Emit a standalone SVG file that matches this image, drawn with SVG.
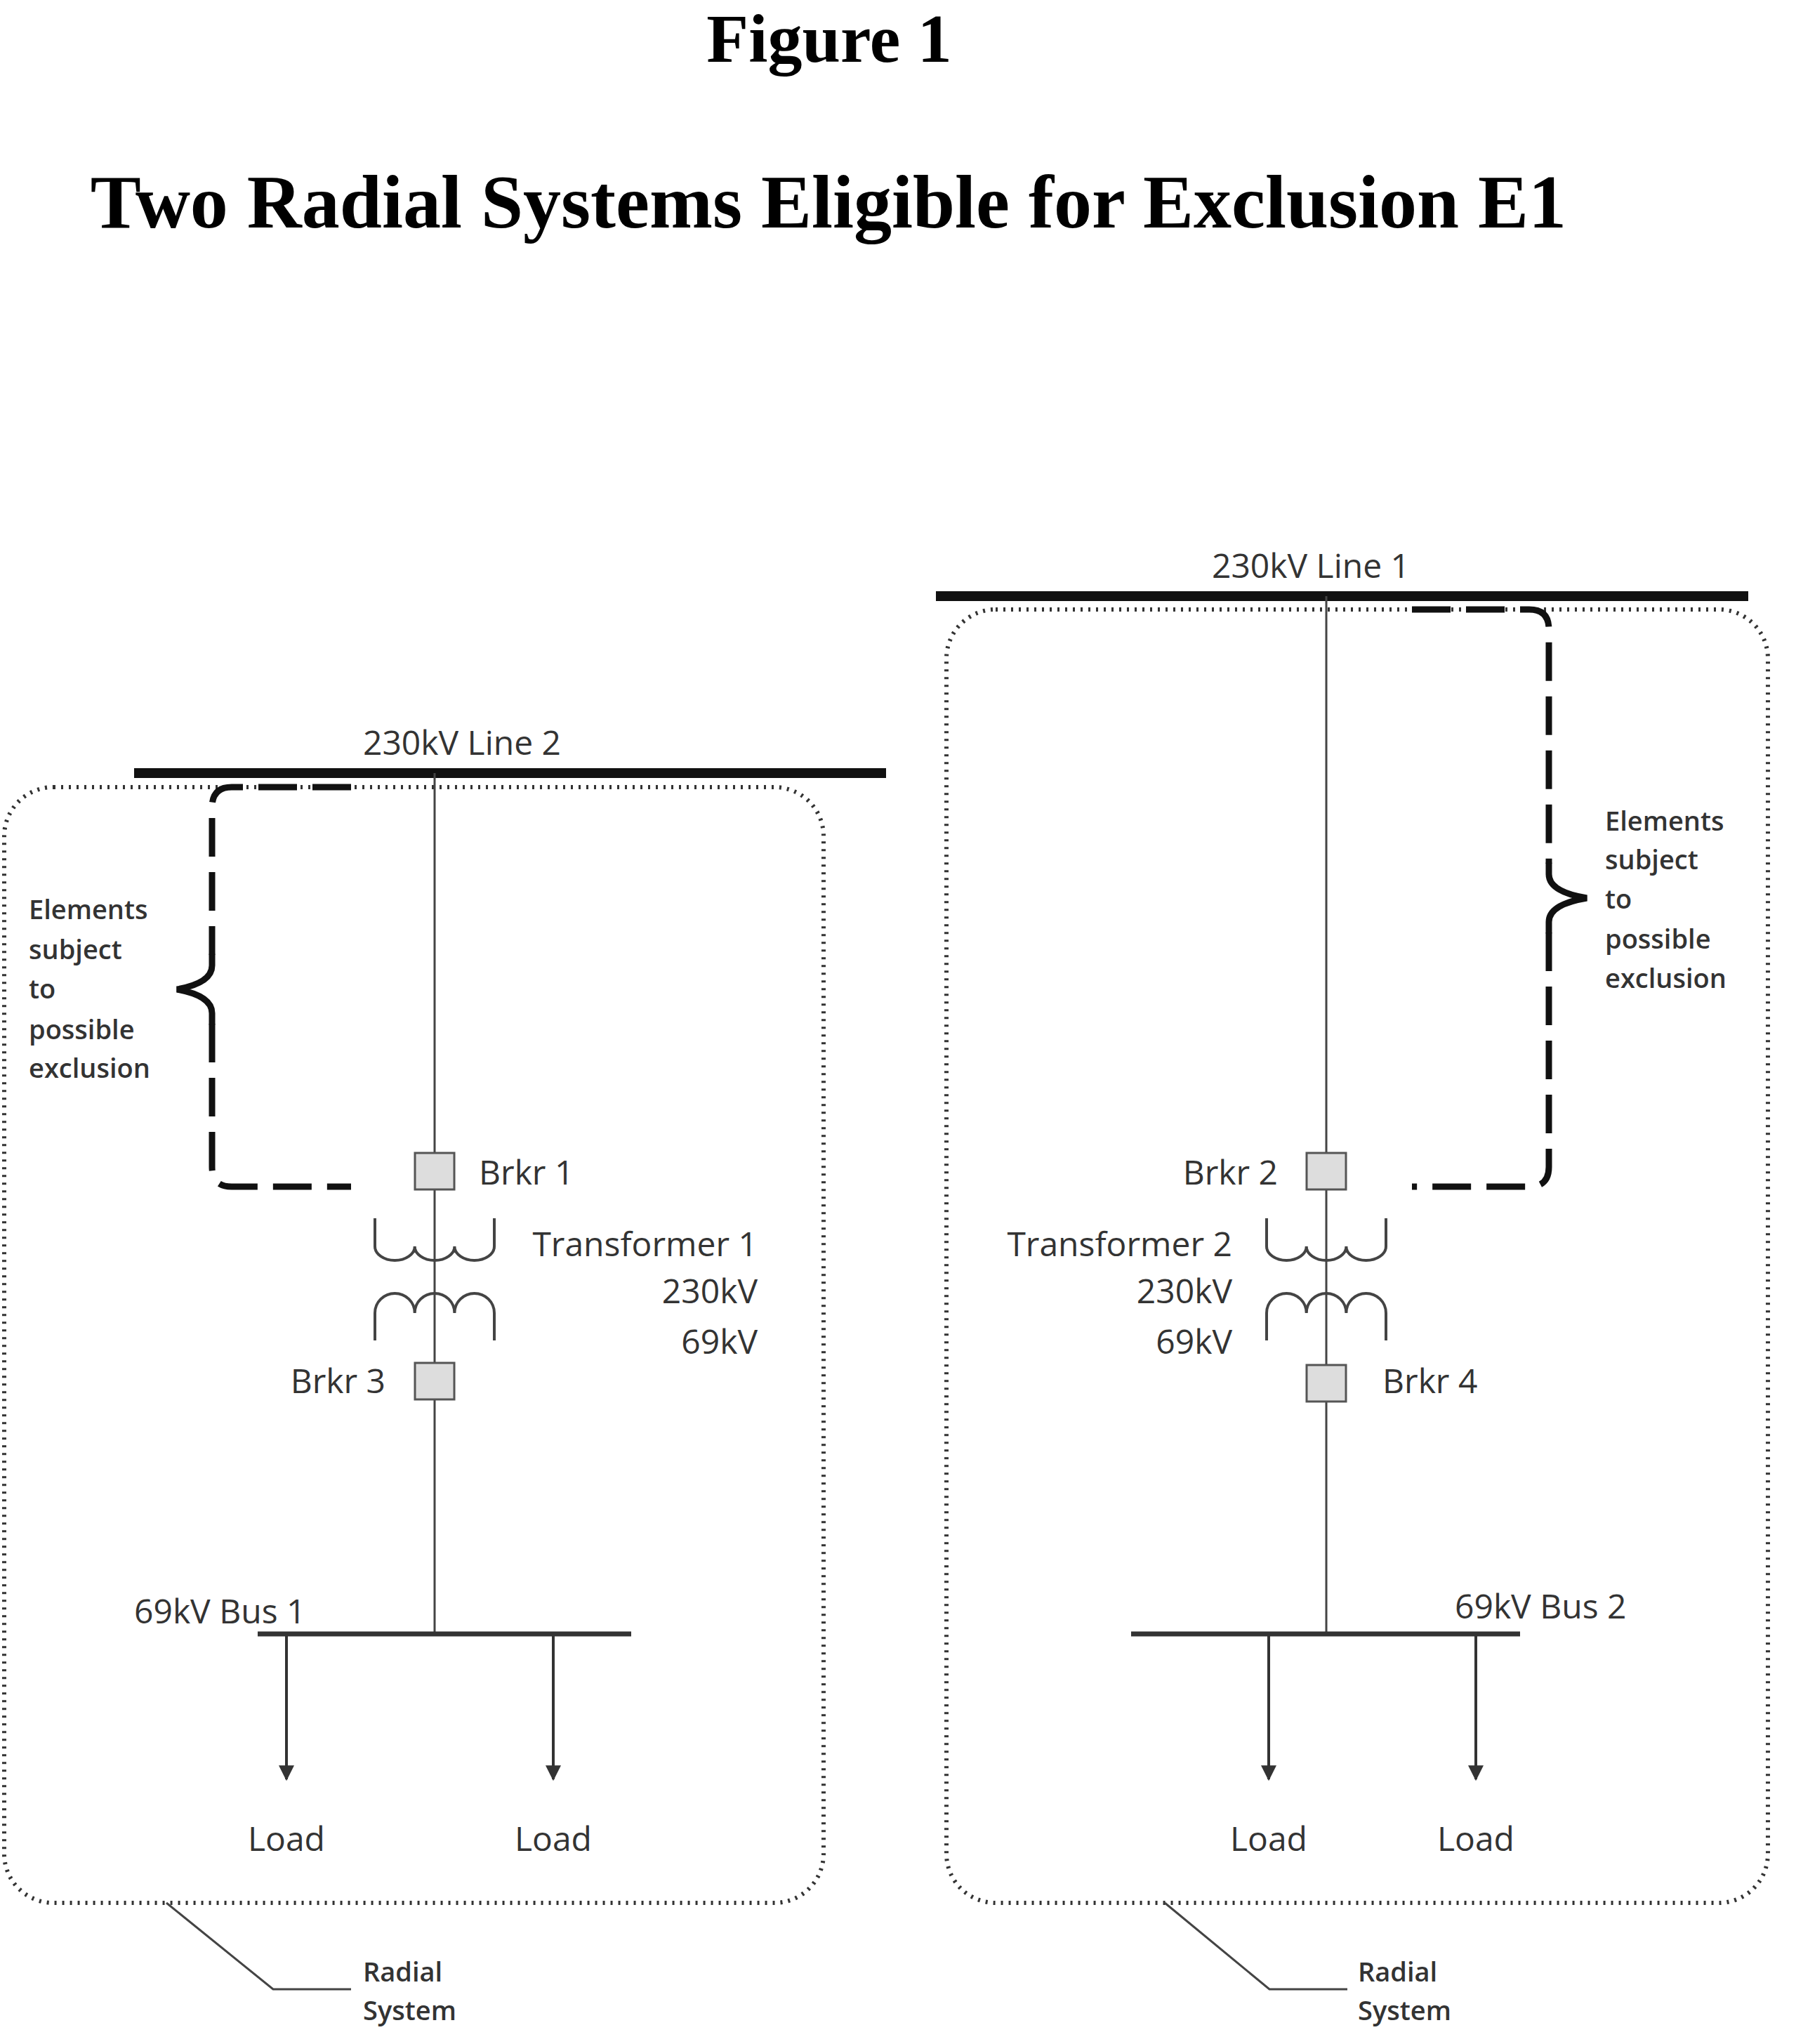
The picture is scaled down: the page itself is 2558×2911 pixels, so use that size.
<svg xmlns="http://www.w3.org/2000/svg" width="2558" height="2911" viewBox="0 0 2558 2911">
<defs>
<style>
.t{font-family:"Times New Roman","Liberation Serif",serif;font-weight:bold;fill:#000}
.l{font-family:"Open Sans","Liberation Sans",sans-serif;font-size:48px;fill:#333}
.s{font-family:"Open Sans","Liberation Sans",sans-serif;font-size:38px;font-weight:600;fill:#333}
.bar{stroke:#111;stroke-width:14}
.bus{stroke:#333;stroke-width:7}
.thin{stroke:#444;stroke-width:3;fill:none}
.box{fill:none;stroke:#333;stroke-width:6;stroke-dasharray:3 8}
.brace{fill:none;stroke:#111;stroke-width:9;stroke-dasharray:55 22}
.tip{fill:none;stroke:#111;stroke-width:9;stroke-linecap:round}
.brk{fill:#ddd;stroke:#555;stroke-width:3}
.coil{fill:none;stroke:#444;stroke-width:4}
.load{stroke:#333;stroke-width:4}
</style>
<marker id="ah" markerWidth="22" markerHeight="22" refX="9" refY="5" orient="auto" markerUnits="userSpaceOnUse" viewBox="0 0 10 10"><path d="M0,0 L10,5 L0,10 z" fill="#333"/></marker>
</defs>
<rect width="2558" height="2911" fill="#fff"/>
<text class="t" x="1181" y="88" font-size="98" text-anchor="middle">Figure 1</text>
<text class="t" x="1180" y="324" font-size="108" text-anchor="middle">Two Radial Systems Eligible for Exclusion E1</text>

<g id="system1">
<rect class="box" x="6" y="1121" width="1167" height="1589" rx="70"/>
<line class="bar" x1="191" y1="1101" x2="1262" y2="1101"/>
<text class="l" x="658" y="1075" text-anchor="middle">230kV Line 2</text>
</g>
<g id="system2">
<rect class="box" x="1348" y="868" width="1170" height="1842" rx="70"/>
<line class="bar" x1="1333" y1="849" x2="2490" y2="849"/>
<text class="l" x="1867" y="823" text-anchor="middle">230kV Line 1</text>
</g>

<g id="connectors">
<line class="thin" x1="619" y1="1101" x2="619" y2="2327"/>
<line class="thin" x1="1889" y1="849" x2="1889" y2="2327"/>
<line class="load" x1="408" y1="2327" x2="408" y2="2534" marker-end="url(#ah)"/>
<line class="load" x1="788" y1="2327" x2="788" y2="2534" marker-end="url(#ah)"/>
<line class="load" x1="1807" y1="2327" x2="1807" y2="2534" marker-end="url(#ah)"/>
<line class="load" x1="2102" y1="2327" x2="2102" y2="2534" marker-end="url(#ah)"/>
<polyline class="thin" points="237,2710 389,2833 500,2833"/>
<polyline class="thin" points="1659,2710 1808,2833 1919,2833"/>
</g>

<g id="brace1">
<path class="brace" d="M500,1121 H330 Q302,1121 302,1150 V1360"/>
<path class="tip" d="M302,1360 V1375 Q302,1400 252,1409 Q302,1418 302,1443 V1458"/>
<path class="brace" d="M302,1458 V1662 Q302,1690 330,1690 H500"/>
<g class="s"><text x="41" y="1309">Elements</text><text x="41" y="1366">subject</text><text x="41" y="1422">to</text><text x="41" y="1480">possible</text><text x="41" y="1535">exclusion</text></g>
</g>
<g id="brace2">
<path class="brace" d="M2011,868 H2178 Q2206,868 2206,896 V1230"/>
<path class="tip" d="M2206,1230 V1245 Q2206,1270 2260,1279 Q2206,1288 2206,1313 V1328"/>
<path class="brace" d="M2206,1328 V1662 Q2206,1690 2178,1690 H2011"/>
<g class="s"><text x="2286" y="1183">Elements</text><text x="2286" y="1238">subject</text><text x="2286" y="1294">to</text><text x="2286" y="1351">possible</text><text x="2286" y="1407">exclusion</text></g>
</g>

<g id="brkr1"><rect class="brk" x="591" y="1642" width="56" height="52"/><text class="l" x="682" y="1687">Brkr 1</text></g>
<g id="brkr3"><rect class="brk" x="591" y="1941" width="56" height="52"/><text class="l" x="549" y="1984" text-anchor="end">Brkr 3</text></g>
<g id="transformer1">
<path class="coil" d="M534,1735 V1775 a28.3,20 0 0 0 56.7,0 a28.3,20 0 0 0 56.7,0 a28.3,20 0 0 0 56.6,0 V1735"/>
<path class="coil" d="M534,1909 V1870 a28.3,28 0 0 1 56.7,0 a28.3,28 0 0 1 56.7,0 a28.3,28 0 0 1 56.6,0 V1909"/>
<text class="l" x="1079" y="1789" text-anchor="end">Transformer 1</text>
<text class="l" x="1079" y="1856" text-anchor="end">230kV</text>
<text class="l" x="1079" y="1928" text-anchor="end">69kV</text>
</g>
<g id="bus1"><line class="bus" x1="367" y1="2327" x2="899" y2="2327"/><text class="l" x="191" y="2312">69kV Bus 1</text></g>
<g id="loads1"><text class="l" x="408" y="2636" text-anchor="middle">Load</text><text class="l" x="788" y="2636" text-anchor="middle">Load</text></g>
<g id="radial1" class="s"><text x="517" y="2822">Radial</text><text x="517" y="2877">System</text></g>

<g id="brkr2"><rect class="brk" x="1861" y="1642" width="56" height="52"/><text class="l" x="1820" y="1687" text-anchor="end">Brkr 2</text></g>
<g id="brkr4"><rect class="brk" x="1861" y="1944" width="56" height="52"/><text class="l" x="1969" y="1984">Brkr 4</text></g>
<g id="transformer2">
<path class="coil" d="M1804,1735 V1775 a28.3,20 0 0 0 56.7,0 a28.3,20 0 0 0 56.7,0 a28.3,20 0 0 0 56.6,0 V1735"/>
<path class="coil" d="M1804,1909 V1870 a28.3,28 0 0 1 56.7,0 a28.3,28 0 0 1 56.7,0 a28.3,28 0 0 1 56.6,0 V1909"/>
<text class="l" x="1755" y="1789" text-anchor="end">Transformer 2</text>
<text class="l" x="1755" y="1856" text-anchor="end">230kV</text>
<text class="l" x="1755" y="1928" text-anchor="end">69kV</text>
</g>
<g id="bus2"><line class="bus" x1="1611" y1="2327" x2="2165" y2="2327"/><text class="l" x="2072" y="2305">69kV Bus 2</text></g>
<g id="loads2"><text class="l" x="1807" y="2636" text-anchor="middle">Load</text><text class="l" x="2102" y="2636" text-anchor="middle">Load</text></g>
<g id="radial2" class="s"><text x="1934" y="2822">Radial</text><text x="1934" y="2877">System</text></g>
</svg>
